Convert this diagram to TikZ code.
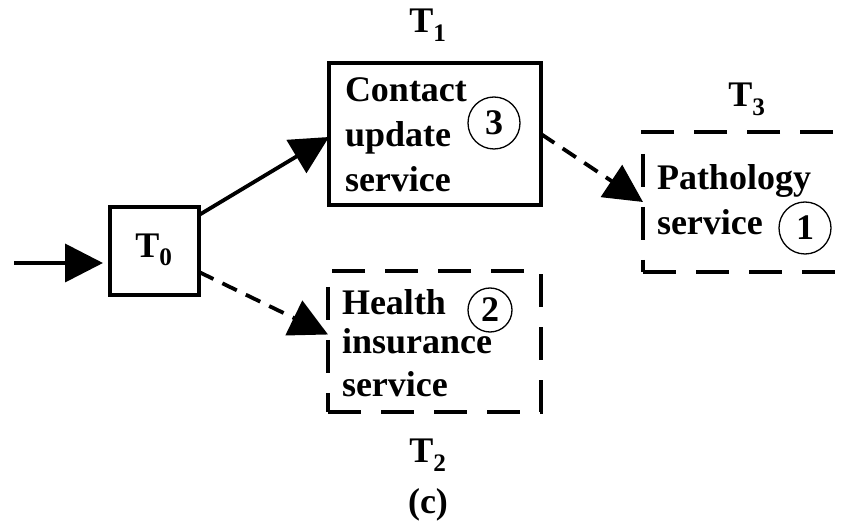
\documentclass[tikz,border=0pt]{standalone}
\usepackage{fontspec}
\setmainfont{Liberation Serif}
\usetikzlibrary{arrows.meta}
\begin{document}
\begin{tikzpicture}[x=1pt,y=-1pt,
  every node/.style={font=\fontsize{36}{40}\selectfont\bfseries, inner sep=0pt, outer sep=0pt},
  solidbox/.style={draw, line width=3.8pt, rectangle},
  dashbox/.style={draw, line width=3.8pt, rectangle, dash pattern=on 33pt off 20pt},
  line/.style={anchor=base west},
  num/.style={draw, circle, line width=1.3pt, minimum size=#1},
  lab/.style={anchor=base},
  arr/.style={line width=3.8pt, -{Triangle[length=38pt,width=38pt]}},
  darr/.style={arr, dash pattern=on 16pt off 10pt}
]
\useasboundingbox (0,0) rectangle (847,521);
\clip (0,0) rectangle (847,521);

% T0
\node[solidbox, minimum width=89pt, minimum height=88pt] (T0) at (154.5,251) {};
\node (t0) at (154,250) {T\textsubscript{0}};
\coordinate (in) at (14,263);

% Contact update service
\node[solidbox, minimum width=212pt, minimum height=142pt] (C) at (435,134) {};
\node[line] (c1) at (345,102) {Contact};
\node[line] (c2) at (345,147) {update};
\node[line] (c3) at (345,192) {service};
\node[num=52pt] (n3) at (494,123) {3};
\node[lab] (T1) at (428,33) {T\textsubscript{1}};

% Health insurance service
\node[dashbox, minimum width=213pt, minimum height=141pt] (H) at (434.5,341.5) {};
\node[line] (h1) at (342,315) {Health};
\node[line] (h2) at (342,354) {insurance};
\node[line] (h3) at (342,397) {service};
\node[num=44pt] (n2) at (490,310) {2};
\node[lab] (T2) at (428,463) {T\textsubscript{2}};

% Pathology service
\node[dashbox, minimum width=237pt, minimum height=140pt] (P) at (761.5,202) {};
\node[line] (p1) at (657,190) {Pathology};
\node[line] (p2) at (657,235) {service};
\node[num=52pt] (n1) at (805,228) {1};
\node[lab] (T3) at (747,107) {T\textsubscript{3}};

% caption
\node[lab] (cap) at (428,514) {(c)};

% connectors
\draw[arr] (in) -- ([xshift=-7pt]T0.west |- in);
\draw[arr] ([yshift=-8pt]T0.north east) -- ([yshift=-3pt]C.west);
\draw[darr] ([yshift=-21pt]T0.east) -- ([yshift=7pt]H.west);
\draw[darr] (C.east) -- (P.west);
\end{tikzpicture}
\end{document}
